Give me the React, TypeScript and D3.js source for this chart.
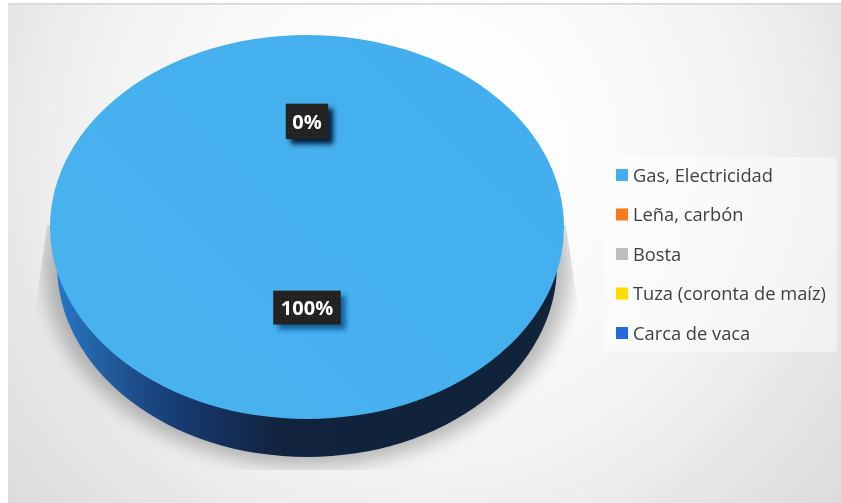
import React from "react";
import * as d3 from "d3";

const categories = ["Gas, Electricidad", "Leña, carbón", "Bosta", "Tuza (coronta de maíz)", "Carca de vaca"];
const values = [100, 0, 0, 0, 0];
const colors = ["#43aeee", "#fd7a1a", "#bdbdbd", "#ffdb00", "#2767df"];
const dataLabels = ["100%", "0%"];
const labelFractions = [0.42, 0.55];

const W = 841, H = 503;
const cx = 307, cy = 227, rx = 257, ry = 192, depth = 38, sideRx = 250;

export default function App() {
  const slices = d3.pie<number>().sort(null)(values);
  const arc = d3.arc<d3.PieArcDatum<number>>().innerRadius(0).outerRadius(rx);
  const full = slices[0];
  const legendY = d3.scalePoint<string>().domain(categories).range([175, 333]);
  const yScale = ry / rx;

  const labelPos = (i: number) => {
    // 100% sits below the centre, the zero slices above it
    const sign = i === 0 ? 1 : -1;
    return cy + sign * labelFractions[i] * ry;
  };

  return (
    <svg width={W} height={H} viewBox={`0 0 ${W} ${H}`}
      style={{ position: "absolute", left: 0, top: 0, display: "block" }}>
      <defs>
        <radialGradient id="bg" gradientUnits="userSpaceOnUse" cx={425} cy={150} r={543}>
          <stop offset="0" stopColor="#ffffff" />
          <stop offset="0.25" stopColor="#fdfdfd" />
          <stop offset="0.5" stopColor="#f6f6f6" />
          <stop offset="0.69" stopColor="#eeeeee" />
          <stop offset="0.77" stopColor="#e8e8e8" />
          <stop offset="1" stopColor="#dcdcdc" />
        </radialGradient>
        <linearGradient id="side" gradientUnits="userSpaceOnUse" x1={cx - rx} x2={cx + rx} y1={0} y2={0}>
          <stop offset="0" stopColor="#2779cf" />
          <stop offset="0.1" stopColor="#22609f" />
          <stop offset="0.2" stopColor="#1a4580" />
          <stop offset="0.32" stopColor="#15315f" />
          <stop offset="0.45" stopColor="#11233d" />
          <stop offset="1" stopColor="#112339" />
        </linearGradient>
        <linearGradient id="top" gradientUnits="userSpaceOnUse" x1={cx - rx} x2={cx + rx} y1={cy + ry} y2={cy - ry}>
          <stop offset="0" stopColor="#48b2ef" />
          <stop offset="1" stopColor="#42adee" />
        </linearGradient>
        <filter id="soft" x="-20%" y="-20%" width="140%" height="140%">
          <feGaussianBlur stdDeviation="9" />
        </filter>
        <filter id="boxShadow" x="-40%" y="-40%" width="180%" height="180%">
          <feGaussianBlur stdDeviation="2.5" />
        </filter>
        <filter id="tiny" x="-5%" y="-5%" width="110%" height="110%">
          <feGaussianBlur stdDeviation="0.35" />
        </filter>
        <clipPath id="shadowClip">
          <path d="M47 225 L566 225 L580 320 L580 470 L34 470 L34 320 Z" />
        </clipPath>
        <pattern id="dots" width="4" height="4" patternUnits="userSpaceOnUse">
          <rect width="4" height="4" fill="#222222" />
          <rect width="1" height="1" fill="#333333" />
        </pattern>
      </defs>

      <rect x={8} y={3} width={W - 8} height={H - 3} fill="url(#bg)" />
      <rect x={8} y={3} width={W - 8} height={1.7} fill="#d8d8d8" />

      <g clipPath="url(#shadowClip)">
        <ellipse cx={cx} cy={cy + depth + 2} rx={rx + 6} ry={ry + 7} fill="#000" opacity={0.25} filter="url(#soft)" />
      </g>

      <ellipse cx={cx} cy={cy + depth} rx={sideRx} ry={ry} fill="url(#side)" />
      <g transform={`translate(${cx},${cy}) scale(1,${yScale})`}>
        <path d={arc(full) ?? ""} fill="url(#top)" />
      </g>

      {dataLabels.map((t, i) => {
        const y = labelPos(i);
        const w = t.length === 4 ? 67.5 : 42.5;
        const h = i === 0 ? 34 : 35.5;
        return (
          <g key={t}>
            <rect x={cx - w / 2 + 5} y={y - h / 2 + 5} width={w} height={h}
              fill={i === 0 ? "#16609f" : "#06233f"} filter="url(#boxShadow)" />
            <rect x={cx - w / 2} y={y - h / 2} width={w} height={h} fill="url(#dots)" />
            <text x={cx} y={y} dy="0.36em" textAnchor="middle" fill="#ffffff" fontWeight={700}
              fontFamily="'Open Sans', sans-serif" fontSize={20} filter="url(#tiny)">{t}</text>
          </g>
        );
      })}

      <rect x={605} y={157} width={232} height={195} fill="#ffffff" opacity={0.45} />
      {categories.map((c, i) => {
        const y = legendY(c) as number;
        return (
          <g key={c}>
            <rect x={616} y={y - 6} width={12} height={12} fill={colors[i]} />
            <text x={633} y={y + 0.5} dy="0.35em" fill="#404040" fontSize={18.3} filter="url(#tiny)"
              fontFamily="'Open Sans', sans-serif">{c}</text>
          </g>
        );
      })}
    </svg>
  );
}
